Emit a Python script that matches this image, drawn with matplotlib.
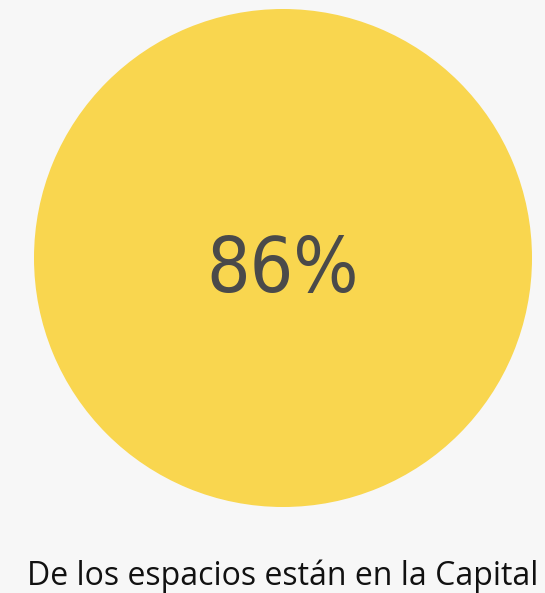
import matplotlib
matplotlib.use("Agg")
import matplotlib.pyplot as plt

share = [100]
label = "86%"
caption = "De los espacios están en la Capital"

bg = "#f7f7f7"
yellow = "#f9d64f"
ink = "#4a4a4a"

fig = plt.figure(figsize=(5.45, 5.93), dpi=100, facecolor=bg)
ax = fig.add_axes([0, 0, 1, 1])
ax.set_facecolor(bg)

ax.pie(share, colors=[yellow], center=(283, 258), radius=249,
       startangle=90, wedgeprops=dict(linewidth=0))
ax.set_xlim(0, 545)
ax.set_ylim(593, 0)
ax.set_aspect("equal")
ax.axis("off")

ax.text(283, 292, label, ha="center", va="baseline", fontsize=55,
        family="DejaVu Sans", fontstretch="condensed", color=ink)
ax.text(283, 576, caption, ha="center", va="center", fontsize=23,
        family="Open Sans", color="#111111")

fig.savefig("out.png", dpi=100, facecolor=bg)
